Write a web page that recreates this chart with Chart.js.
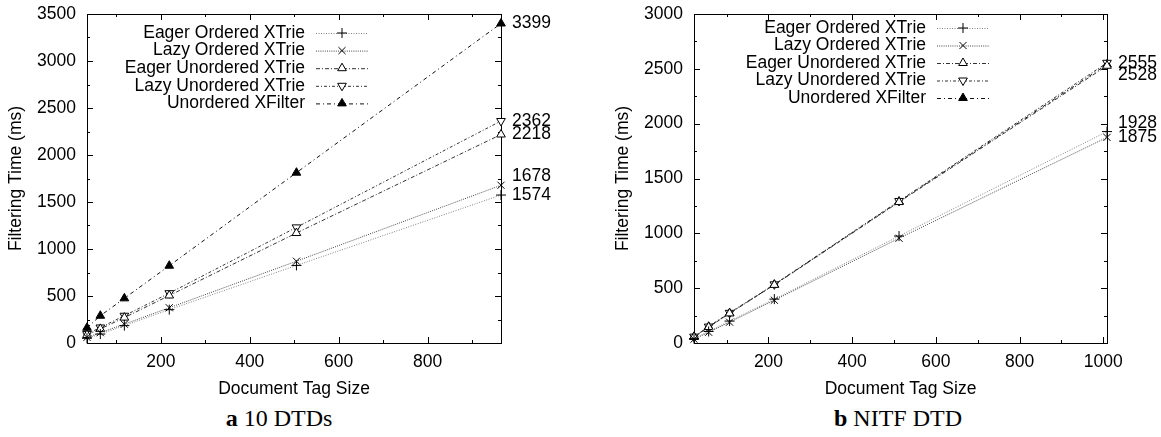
<!DOCTYPE html>
<html>
<head>
<meta charset="utf-8">
<script src="https://cdn.jsdelivr.net/npm/chart.js@4.4.1/dist/chart.umd.min.js"></script>
<style>
  body { margin: 0; background: #fff; width: 1161px; height: 437px; position: relative; overflow: hidden; }
  canvas { position: absolute; top: 0; }
  .cap { position: absolute; top: 405px; font-family: 'Liberation Serif', 'Times New Roman', serif;
         font-size: 24px; color: #000; transform: translateX(-50%); white-space: nowrap; }
</style>
</head>
<body>
<canvas id="chartA" width="580" height="400" style="left:0"></canvas>
<canvas id="chartB" width="581" height="400" style="left:580px"></canvas>
<div class="cap" style="left:279px"><b>a</b> 10 DTDs</div>
<div class="cap" style="left:898px"><b>b</b> NITF DTD</div>

<script>
// series names (same for both panels)
const seriesNames = ['Eager Ordered XTrie', 'Lazy Ordered XTrie', 'Eager Unordered XTrie',
                     'Lazy Unordered XTrie', 'Unordered XFilter'];

// panel a - 10 DTDs
const tagSizeA = [34, 64, 118, 219, 505, 965];
const eagerOrderedA = [50, 95, 185, 355, 825, 1574];
const lazyOrderedA = [60, 110, 200, 375, 870, 1678];
const eagerUnorderedA = [85, 150, 270, 505, 1170, 2218];
const lazyUnorderedA = [95, 165, 290, 530, 1230, 2362];
const xfilterA = [162, 290, 475, 822, 1812, 3399];
const xTicksA = [200, 400, 600, 800];
const yTicksA = [0, 500, 1000, 1500, 2000, 2500, 3000, 3500];

// panel b - NITF DTD
const tagSizeB = [22, 57, 107, 214, 512, 1009];
const eagerOrderedB = [40, 105, 200, 400, 975, 1928];
const lazyOrderedB = [35, 98, 190, 390, 955, 1875];
const eagerUnorderedB = [55, 145, 270, 530, 1285, 2528];
const lazyUnorderedB = [58, 150, 275, 535, 1295, 2555];
const xfilterB = [56, 148, 272, 532, 1290, 2540];
const xTicksB = [200, 400, 600, 800, 1000];
const yTicksB = [0, 500, 1000, 1500, 2000, 2500, 3000];

const FONT = "'Liberation Sans', Arial, Helvetica, sans-serif";
const FSIZE = 17.5;

// line / marker look for each series
const seriesStyles = [
    { color: '#808080', dash: [1, 1.5], point: 'cross', rot: 0, fill: '#000' },
    { color: '#444', dash: [1, 1.2], point: 'crossRot', rot: 0, fill: '#000' },
    { color: '#333', dash: [4, 2, 1, 2], point: 'triangle', rot: 0, fill: '#fff' },
    { color: '#333', dash: [3, 2, 1, 2], point: 'triangle', rot: 180, fill: '#fff' },
    { color: '#111', dash: [4, 3, 1, 3], point: 'triangle', rot: 0, fill: '#000' }
];

function toPoints(xs, ys) {
    return xs.map((x, i) => ({ x: x, y: ys[i] }));
}

// frame with gnuplot-style inward ticks on all four sides
const framePlugin = {
    id: 'frame',
    beforeDatasetsDraw(chart) {
        const ctx = chart.ctx;
        const a = chart.chartArea;
        const xs = chart.scales.x, ys = chart.scales.y;
        ctx.save();
        ctx.strokeStyle = '#000';
        ctx.lineWidth = 1;
        ctx.strokeRect(Math.round(a.left) + 0.5, Math.round(a.top) + 0.5,
                       Math.round(a.right - a.left), Math.round(a.bottom - a.top));
        ctx.beginPath();
        const xt = xs.ticks.map(t => t.value);
        const xStep = xt[1] - xt[0];
        for (let v = xt[0] - xStep; v <= xs.max + 1; v += xStep / 2) {
            if (v < xs.min) continue;
            const len = (Math.abs(v % xStep) < 1e-6) ? 6 : 3;
            const px = Math.round(xs.getPixelForValue(v)) + 0.5;
            ctx.moveTo(px, a.bottom); ctx.lineTo(px, a.bottom - len);
            ctx.moveTo(px, a.top); ctx.lineTo(px, a.top + len);
        }
        const yt = ys.ticks.map(t => t.value);
        const yStep = yt[1] - yt[0];
        for (let v = ys.min; v <= ys.max; v += yStep / 2) {
            const len = (Math.abs(v % yStep) < 1e-6) ? 6 : 3;
            const py = Math.round(ys.getPixelForValue(v)) + 0.5;
            ctx.moveTo(a.left, py); ctx.lineTo(a.left + len, py);
            ctx.moveTo(a.right, py); ctx.lineTo(a.right - len, py);
        }
        ctx.stroke();
        ctx.restore();
    },
    afterDraw(chart, args, opts) {
        const ctx = chart.ctx;
        const a = chart.chartArea;
        const ys = chart.scales.y;
        ctx.save();
        ctx.font = FSIZE + 'px ' + FONT;
        ctx.fillStyle = '#000';
        ctx.textBaseline = 'middle';

        // legend: right-aligned text, then a line sample with the marker
        const lg = opts.legend;
        seriesNames.forEach((name, i) => {
            const y = lg.top + i * lg.step;
            const st = seriesStyles[i];
            ctx.textAlign = 'right';
            ctx.fillText(name, lg.textRight, y);
            ctx.save();
            ctx.strokeStyle = st.color;
            ctx.lineWidth = 1;
            ctx.setLineDash(st.dash);
            ctx.beginPath();
            ctx.moveTo(lg.textRight + 11, y + 0.5);
            ctx.lineTo(lg.textRight + 63, y + 0.5);
            ctx.stroke();
            ctx.setLineDash([]);
            ctx.strokeStyle = '#000';
            ctx.fillStyle = st.fill;
            Chart.helpers.drawPoint(ctx, {
                pointStyle: st.point, radius: 5, rotation: st.rot, borderWidth: 1
            }, lg.textRight + 37, y);
            ctx.restore();
        });

        // value labels at the right end of the lines
        ctx.textAlign = 'left';
        opts.endLabels.forEach(lab => {
            const ds = chart.data.datasets[lab.series].data;
            const v = ds[ds.length - 1].y;
            ctx.fillText(String(v), a.right + 11, ys.getPixelForValue(v) + lab.nudge);
        });
        ctx.restore();
    }
};

function makeChart(id, xs, seriesData, xTicks, yTicks, yMax, yAxisWidth, titlePad, padRight, legend, endLabels) {
    const datasets = seriesData.map((ys, i) => {
        const st = seriesStyles[i];
        return {
            label: seriesNames[i],
            data: toPoints(xs, ys),
            borderColor: st.color,
            borderWidth: 1,
            borderDash: st.dash,
            pointStyle: st.point,
            pointRotation: st.rot,
            pointRadius: 5,
            pointBorderColor: '#000',
            pointBackgroundColor: st.fill,
            pointBorderWidth: 1,
            tension: 0,
            clip: false
        };
    });
    return new Chart(document.getElementById(id), {
        type: 'line',
        data: { datasets: datasets },
        options: {
            responsive: false,
            animation: false,
            events: [],
            layout: { padding: { top: 14, right: padRight, left: 0, bottom: 0 } },
            plugins: {
                legend: { display: false },
                tooltip: { enabled: false },
                frame: { legend: legend, endLabels: endLabels }
            },
            scales: {
                x: {
                    type: 'linear',
                    min: xs[0],
                    max: xs[xs.length - 1],
                    grid: { display: false, drawTicks: false },
                    border: { display: false },
                    afterBuildTicks(scale) { scale.ticks = xTicks.map(v => ({ value: v })); },
                    afterFit(scale) {
                        scale.height = 57;
                        scale.paddingLeft = 0; scale.paddingRight = 0;
                    },
                    ticks: { color: '#000', font: { family: FONT, size: FSIZE }, padding: 9,
                             maxRotation: 0, callback: v => String(v) },
                    title: { display: true, text: 'Document Tag Size', color: '#000',
                             font: { family: FONT, size: FSIZE }, padding: { top: 0, bottom: 0 } }
                },
                y: {
                    type: 'linear',
                    min: 0,
                    max: yMax,
                    grid: { display: false, drawTicks: false },
                    border: { display: false },
                    afterBuildTicks(scale) { scale.ticks = yTicks.map(v => ({ value: v })); },
                    afterFit(scale) {
                        scale.width = yAxisWidth;
                        scale.paddingTop = 0; scale.paddingBottom = 0;
                    },
                    ticks: { color: '#000', font: { family: FONT, size: FSIZE }, padding: 11,
                             callback: v => String(v) },
                    title: { display: true, text: 'Filtering Time (ms)', color: '#000',
                             font: { family: FONT, size: FSIZE }, padding: { top: titlePad, bottom: 0 } }
                }
            }
        },
        plugins: [framePlugin]
    });
}

makeChart('chartA', tagSizeA,
    [eagerOrderedA, lazyOrderedA, eagerUnorderedA, lazyUnorderedA, xfilterA],
    xTicksA, yTicksA, 3500, 87, 6, 79,
    { top: 33, step: 17.6, textRight: 305 },
    [{ series: 4, nudge: 0 }, { series: 3, nudge: 0 }, { series: 2, nudge: 0 },
     { series: 1, nudge: -9 }, { series: 0, nudge: 0 }]);

makeChart('chartB', tagSizeB,
    [eagerOrderedB, lazyOrderedB, eagerUnorderedB, lazyUnorderedB, xfilterB],
    xTicksB, yTicksB, 3000, 114, 33, 54,
    { top: 28, step: 17.5, textRight: 346 },
    [{ series: 3, nudge: 0 }, { series: 2, nudge: 9 },
     { series: 0, nudge: -8 }, { series: 1, nudge: 0 }]);
</script>
</body>
</html>
